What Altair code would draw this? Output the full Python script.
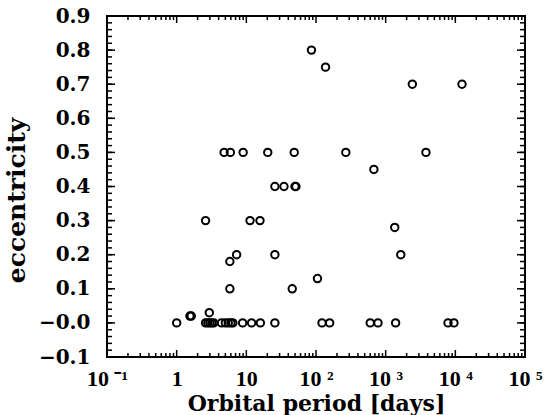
import altair as alt
import pandas as pd

# ---- data ----
period = [86, 137, 2415, 12470,
          4.8, 5.9, 9.0, 20.3, 48.7, 268, 3785,
          677,
          25.7, 34.7, 49.9, 51.5,
          2.6, 11.3, 15.7,
          1350,
          7.25, 25.7, 1648,
          5.8,
          105,
          5.8, 45.6,
          2.94,
          1.55, 1.62,
          1.0, 2.6, 2.8, 3.0, 3.2, 3.4, 4.4, 5.0, 5.5, 6.0, 6.4,
          8.85, 11.9, 15.9, 25.7, 122, 157, 600, 776, 1390, 7850, 9550]
ecc = [0.80, 0.75, 0.70, 0.70,
       0.50, 0.50, 0.50, 0.50, 0.50, 0.50, 0.50,
       0.45,
       0.40, 0.40, 0.40, 0.40,
       0.30, 0.30, 0.30,
       0.28,
       0.20, 0.20, 0.20,
       0.18,
       0.13,
       0.10, 0.10,
       0.03,
       0.02, 0.02,
       0.0, 0.0, 0.0, 0.0, 0.0, 0.0, 0.0, 0.0, 0.0, 0.0, 0.0,
       0.0, 0.0, 0.0, 0.0, 0.0, 0.0, 0.0, 0.0, 0.0, 0.0, 0.0]

x_ticks = [0.1, 1, 10, 100, 1000, 10000, 100000]
x_labels = ["10 \u207b\u00b9", "1", "10", "10 \u00b2", "10 \u00b3", "10 \u2074", "10 \u2075"]
y_ticks = [-0.1, 0.0, 0.1, 0.2, 0.3, 0.4, 0.5, 0.6, 0.7, 0.8, 0.9]

W, H = 418, 341

df = pd.DataFrame({"P": period, "e": ecc})

# tick positions (frame decoration)
minor_x = [k * 10.0 ** d for d in range(-1, 5) for k in range(2, 10)]
major_x = x_ticks
minor_y = [round(-0.1 + 0.02 * i, 2) for i in range(51)]
major_y = y_ticks

xscale = alt.Scale(type="log", domain=[0.1, 100000], nice=False)
yscale = alt.Scale(domain=[-0.1, 0.9], nice=False, zero=False)

label_expr = " : ".join(
    f"datum.value < {v*1.5} ? '{l}'" for v, l in zip(x_ticks, x_labels)
) + " : ''"

xaxis = alt.Axis(values=x_ticks, labelExpr=label_expr, ticks=False, domain=False,
                 grid=False, labelFont="Liberation Serif", labelFontWeight="bold",
                 labelFontSize=22, labelColor="black", labelPadding=11,
                 labelFlush=False, labelOverlap=False,
                 title="Orbital period [days]", titleFont="DejaVu Serif",
                 titleFontWeight="bold", titleFontSize=22, titleColor="black",
                 titleY=53, titleBaseline="alphabetic")
yaxis = alt.Axis(values=y_ticks,
                 labelExpr="abs(datum.value) < 1e-9 ? '\u22120.0' : replace(format(datum.value, '.1f'), '-', '\u2212')",
                 ticks=False, domain=False, grid=False,
                 labelFont="DejaVu Serif", labelFontWeight="bold", labelFontSize=20,
                 labelColor="black", labelPadding=17, labelFlush=False, labelOverlap=False,
                 title="eccentricity", titleFont="DejaVu Serif", titleFontWeight="bold",
                 titleFontSize=25, titleColor="black", titleX=-83, titleY=184,
                 titleBaseline="alphabetic")

points = alt.Chart(df).mark_point(
    shape="circle", filled=False, color="black", strokeWidth=2, size=55, opacity=1
).encode(
    x=alt.X("P:Q", scale=xscale, axis=xaxis),
    y=alt.Y("e:Q", scale=yscale, axis=yaxis),
)

def xtick_layer(vals, y0, y1):
    return alt.Chart(pd.DataFrame({"P": vals})).mark_rule(color="black", strokeWidth=1.5).encode(
        x=alt.X("P:Q", scale=xscale, axis=xaxis),
        y=alt.value(y0), y2=alt.value(y1))

def ytick_layer(vals, x0, x1):
    return alt.Chart(pd.DataFrame({"e": vals})).mark_rule(color="black", strokeWidth=1.5).encode(
        y=alt.Y("e:Q", scale=yscale, axis=yaxis),
        x=alt.value(x0), x2=alt.value(x1))

layers = [
    points,
    xtick_layer(minor_x, H, H - 4), xtick_layer(major_x, H, H - 7),
    xtick_layer(minor_x, 0, 4), xtick_layer(major_x, 0, 7),
    ytick_layer(minor_y, 0, 5), ytick_layer(major_y, 0, 8),
    ytick_layer(minor_y, W, W - 5), ytick_layer(major_y, W, W - 8),
]

chart = alt.layer(*layers).properties(
    width=W, height=H,
    autosize=alt.AutoSizeParams(type="none"),
    padding={"left": 107, "top": 16, "right": 24, "bottom": 58},
    background="white",
).configure_view(stroke="black", strokeWidth=2)

chart.save("out.html", embed_options={"renderer": "svg", "actions": False})
